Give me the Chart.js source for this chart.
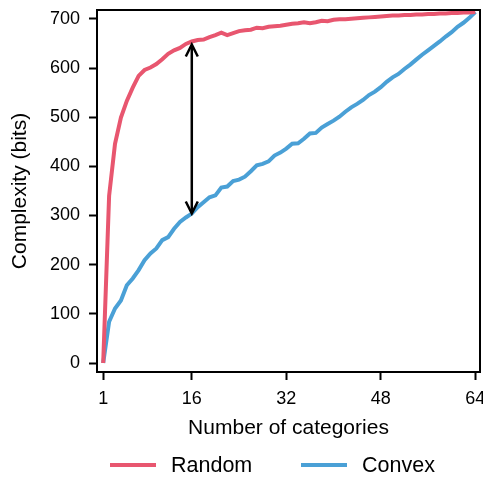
<!DOCTYPE html>
<html>
<head>
<meta charset="utf-8">
<script src="https://cdn.jsdelivr.net/npm/chart.js@4/dist/chart.umd.min.js"></script>
<style>
html,body{margin:0;padding:0;background:#fff;}
#wrap{width:483px;height:483px;position:relative;}
</style>
</head>
<body>
<div id="wrap"><canvas id="c" width="483" height="483"></canvas></div>
<script>
const categories = [1,2,3,4,5,6,7,8,9,10,11,12,13,14,15,16,17,18,19,20,21,22,23,24,25,26,27,28,29,30,31,32,
  33,34,35,36,37,38,39,40,41,42,43,44,45,46,47,48,49,50,51,52,53,54,55,56,57,58,59,60,61,62,63,64];
const randomValues = [0,340,446,499,533,560,584,596,601,608,618,629,636,641,649,654,657,658,663,667,672,667,671,675,677,678,682,681,684,685,686,688,
  690,691,693,691,693,696,695,698,699,699,700,701,702,703,704,705,706,707,707,708,708,709,709,710,710,711,711,712,712,713,713,714];
const convexValues = [0,84,111,127,158,172,189,209,223,233,250,256,273,287,296,304,317,327,337,341,357,359,370,373,379,390,402,405,410,422,428,436,
  446,447,456,467,468,479,486,493,501,511,520,527,535,545,552,561,572,581,588,598,607,617,627,636,645,654,664,673,684,692,702,714];
const xTicks = [1,16,32,48,64];
const yTicks = [0,100,200,300,400,500,600,700];
const seriesNames = ['Random','Convex'];
const arrowCategory = 16;

const RED = '#e8566f';
const BLUE = '#4aa0d6';
const FONT = "'Liberation Sans', Arial, Helvetica, sans-serif";

const frame = {
  id: 'frame',
  afterDraw(chart) {
    const {ctx, chartArea: a} = chart;
    ctx.save();
    ctx.strokeStyle = '#000';
    ctx.lineWidth = 2;
    ctx.strokeRect(a.left, a.top, a.right - a.left, a.bottom - a.top);
    const xs = chart.scales.x, ys = chart.scales.y;
    const i = categories.indexOf(arrowCategory);
    const px = xs.getPixelForValue(arrowCategory);
    const yTop = ys.getPixelForValue(randomValues[i]) + 3;
    const yBot = ys.getPixelForValue(convexValues[i]);
    ctx.lineWidth = 2.5;
    ctx.lineCap = 'butt';
    ctx.beginPath();
    ctx.moveTo(px, yTop + 1); ctx.lineTo(px, yBot - 1);
    ctx.stroke();
    const hw = 6, hl = 12;
    ctx.beginPath();
    ctx.moveTo(px - hw, yTop + hl); ctx.lineTo(px, yTop); ctx.lineTo(px + hw, yTop + hl);
    ctx.moveTo(px - hw, yBot - hl); ctx.lineTo(px, yBot); ctx.lineTo(px + hw, yBot - hl);
    ctx.stroke();
    const cols = [RED, BLUE];
    const lx = [110, 301];
    const ly = 465;
    ctx.font = '21.5px ' + FONT;
    ctx.textBaseline = 'middle';
    ctx.textAlign = 'left';
    seriesNames.forEach((n, k) => {
      ctx.strokeStyle = cols[k];
      ctx.lineWidth = 4;
      ctx.beginPath();
      ctx.moveTo(lx[k], ly); ctx.lineTo(lx[k] + 46, ly);
      ctx.stroke();
      ctx.fillStyle = '#000';
      ctx.fillText(n, lx[k] + 61, ly + 1);
    });
    ctx.restore();
  }
};

new Chart(document.getElementById('c'), {
  type: 'line',
  data: {
    datasets: [
      { label: seriesNames[0], data: categories.map((c, i) => ({x: c, y: randomValues[i]})),
        borderColor: RED, borderWidth: 4, pointRadius: 0, tension: 0, fill: false },
      { label: seriesNames[1], data: categories.map((c, i) => ({x: c, y: convexValues[i]})),
        borderColor: BLUE, borderWidth: 4, pointRadius: 0, tension: 0, fill: false }
    ]
  },
  options: {
    responsive: false,
    animation: false,
    devicePixelRatio: 1,
    layout: { padding: { top: 10, right: 3, left: 0, bottom: 0 } },
    plugins: { legend: { display: false }, tooltip: { enabled: false } },
    scales: {
      x: {
        type: 'linear', min: -0.05, max: 64.8,
        afterBuildTicks: (s) => { s.ticks = xTicks.map(v => ({value: v})); },
        afterFit: (s) => { s.height = 111; s.paddingLeft = 0; s.paddingRight = 0; },
        grid: { drawOnChartArea: false, drawTicks: true, tickLength: 8, tickWidth: 2, tickColor: '#000' },
        border: { display: true, color: '#000', width: 2 },
        ticks: { color: '#000', font: { family: FONT, size: 18 }, padding: 8, maxRotation: 0 },
        title: { display: true, text: 'Number of categories', color: '#000',
                 font: { family: FONT, size: 21 }, padding: { top: 6, bottom: 42 } }
      },
      y: {
        type: 'linear', min: -18.3, max: 718,
        afterBuildTicks: (s) => { s.ticks = yTicks.map(v => ({value: v})); },
        afterFit: (s) => { s.width = 97; s.paddingTop = 0; s.paddingBottom = 0; },
        grid: { drawOnChartArea: false, drawTicks: true, tickLength: 8, tickWidth: 2, tickColor: '#000' },
        border: { display: true, color: '#000', width: 2 },
        ticks: { color: '#000', font: { family: FONT, size: 18 }, padding: 9 },
        title: { display: true, text: 'Complexity (bits)', color: '#000',
                 font: { family: FONT, size: 21 }, padding: { top: 8, bottom: 4 } }
      }
    }
  },
  plugins: [frame]
});
</script>
</body>
</html>
